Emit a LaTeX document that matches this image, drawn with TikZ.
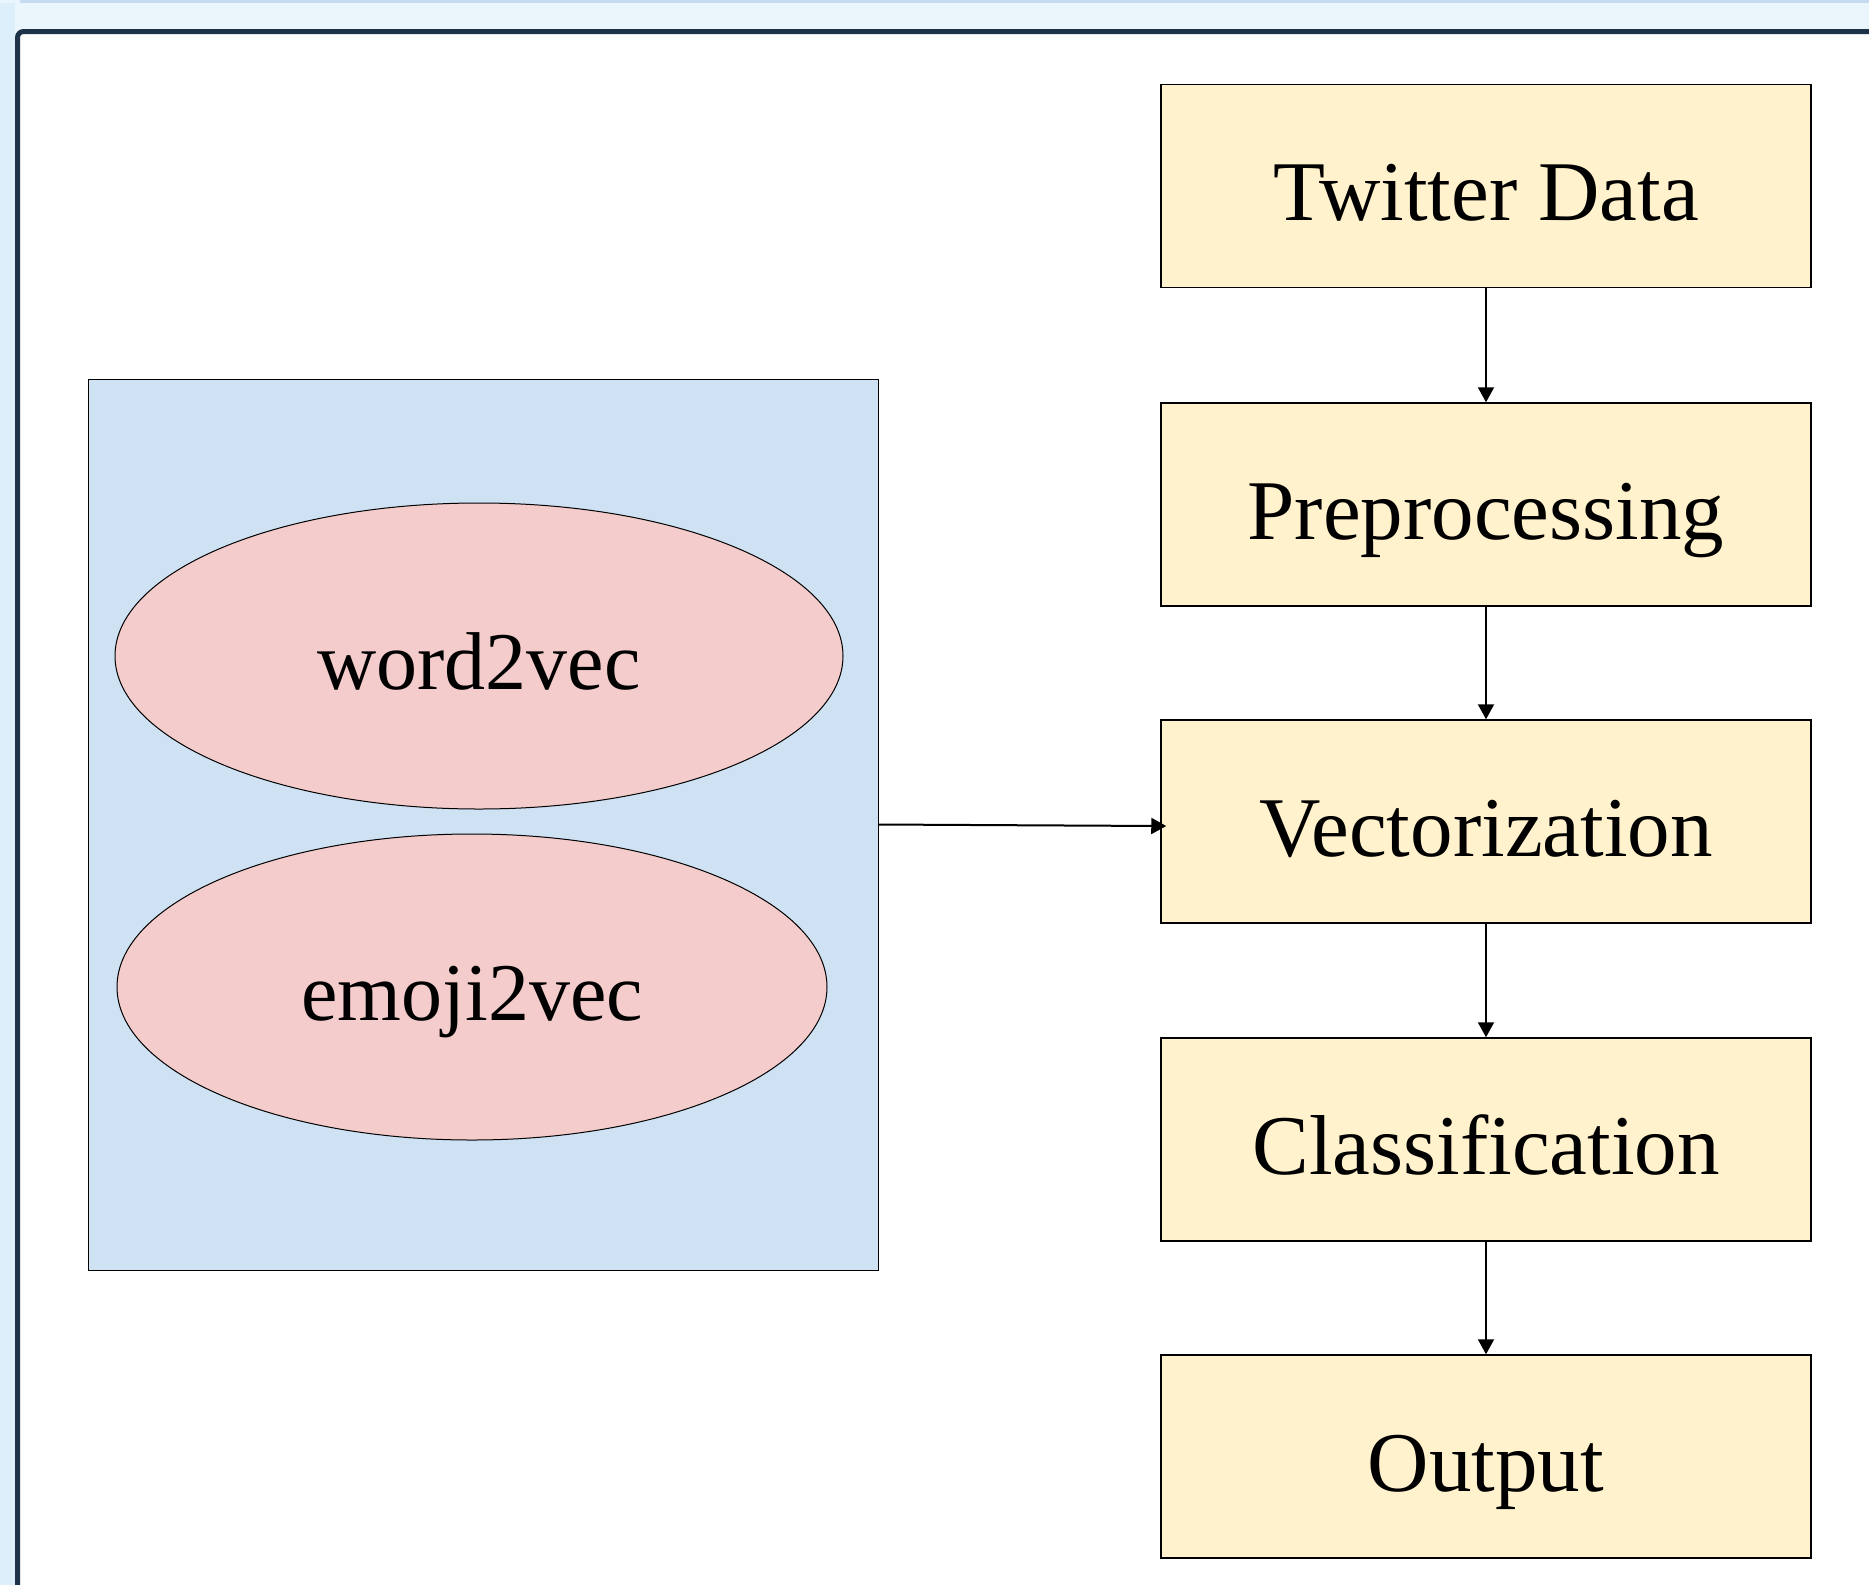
\documentclass[tikz,border=0pt]{standalone}
\usepackage{fontspec}
\setmainfont{Liberation Serif}
\usetikzlibrary{arrows.meta,shapes.geometric}

\definecolor{screenbg}{HTML}{EAF5FC}
\definecolor{screenleft}{HTML}{DDEFFA}
\definecolor{screenline}{HTML}{C6DAF2}
\definecolor{framenavy}{HTML}{1E3249}
\definecolor{stepyellow}{HTML}{FFF2CC}
\definecolor{embedblue}{HTML}{CFE2F3}
\definecolor{embedpink}{HTML}{F4CCCC}

\tikzset{
  stepbox/.style={draw=black, line width=0.75pt, fill=stepyellow,
    minimum width=325pt, minimum height=101.5pt, inner sep=0pt,
    font=\fontsize{42.5}{50}\selectfont, text height=34.6pt, text depth=0pt},
  embed/.style={ellipse, draw=black, line width=0.5pt, fill=embedpink,
    minimum height=153pt, inner sep=0pt,
    font=\fontsize{41}{49}\selectfont, text height=33.4pt, text depth=0pt},
  flow/.style={-{Triangle[length=7.5pt,width=8pt]}, line width=1pt}
}

\begin{document}
\begin{tikzpicture}[x=0.5pt,y=-0.5pt]

% Screen around the figure
\useasboundingbox (0,0) rectangle (1869,1585);
\clip (0,0) rectangle (1869,1585);
\fill[screenbg] (0,0) rectangle (1869,1585);
\fill[screenleft] (0,3) rectangle (15,1585);
\fill[screenline] (20,0) rectangle (1869,3);
% Frame of the figure
\draw[framenavy, line width=2.5pt, fill=white, rounded corners=3pt] (17.5,31.5) rectangle (1900,1620);

% Embedding block
\node[draw=black, line width=0.5pt, fill=embedblue, minimum width=395pt, minimum height=445.5pt] (embeddings) at (483,824.5) {};
\node[embed, minimum width=364pt] (word2vec) at (479,656) {word2vec};
\node[embed, minimum width=355pt] (emoji2vec) at (472,987) {emoji2vec};

% Pipeline steps
\node[stepbox] (twitter) at (1486,186) {Twitter Data};
\node[stepbox] (prep) at (1486,504.5) {Preprocessing};
\node[stepbox] (vec) at (1486,821.5) {Vectorization};
\node[stepbox] (class) at (1486,1139.5) {Classification};
\node[stepbox] (output) at (1486,1456.5) {Output};

% Arrows
\draw[flow] (twitter) -- (prep);
\draw[flow] (prep) -- (vec);
\draw[flow] (vec) -- (class);
\draw[flow] (class) -- (output);
\draw[flow, shorten >=-3pt] (embeddings.east) -- ([yshift=-2.25pt]vec.west); % embeddings feed vectorization

\end{tikzpicture}
\end{document}
